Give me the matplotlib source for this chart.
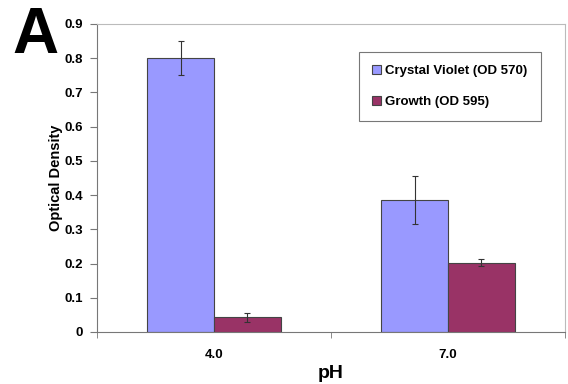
import numpy as np
import matplotlib.pyplot as plt

plt.rcParams['font.family'] = ['Liberation Sans', 'DejaVu Sans']

categories = ['4.0', '7.0']
crystal_violet = [0.80, 0.385]
crystal_violet_err = [0.05, 0.07]
growth = [0.043, 0.203]
growth_err = [0.013, 0.011]

fig = plt.figure(figsize=(5.68, 3.84), dpi=100)
ax = fig.add_axes([97 / 568, 1 - 332 / 384, 468 / 568, 308 / 384])

x = np.arange(len(categories))
w = 0.286
ax.bar(x - w / 2, crystal_violet, w, color='#9999FF', edgecolor='#444444', linewidth=0.8,
       yerr=crystal_violet_err, error_kw=dict(ecolor='#333333', elinewidth=0.8, capsize=2.5, capthick=0.8),
       label='Crystal Violet (OD 570)', zorder=2)
ax.bar(x + w / 2, growth, w, color='#993366', edgecolor='#444444', linewidth=0.8,
       yerr=growth_err, error_kw=dict(ecolor='#333333', elinewidth=0.8, capsize=2.5, capthick=0.8),
       label='Growth (OD 595)', zorder=2)

ax.set_xlim(-0.5, 1.5)
ax.set_ylim(0, 0.9)
ax.set_yticks(np.arange(0, 0.91, 0.1))
ax.set_yticklabels(['0'] + [f'{v:.1f}' for v in np.arange(0.1, 0.91, 0.1)],
                   fontsize=9.5, fontweight='bold')
ax.set_xticks(x)
ax.set_xticklabels(categories, fontsize=9.5, fontweight='bold')
ax.set_xticks([-0.5, 0.5, 1.5], minor=True)
ax.tick_params(axis='x', which='major', length=0, pad=12)
ax.tick_params(axis='x', which='minor', length=4, color='#777777', direction='out')
ax.tick_params(axis='y', length=5, color='#777777', pad=5)

for s in ['left', 'bottom']:
    ax.spines[s].set_color('#777777')
for s in ['top', 'right']:
    ax.spines[s].set_color('#bbbbbb')

ax.set_ylabel('Optical Density', fontsize=10.5, fontweight='bold', labelpad=1)
ax.set_xlabel('pH', fontsize=14, fontweight='bold', labelpad=3)

leg = ax.legend(loc='upper right', bbox_to_anchor=(0.948, 0.91),
                prop=dict(weight='bold', size=9.5), frameon=True, fancybox=False,
                handlelength=0.7, handleheight=0.7, handletextpad=0.3,
                labelspacing=1.4, borderpad=1.0, borderaxespad=0)
leg.get_frame().set_edgecolor('#555555')
leg.get_frame().set_linewidth(0.8)

fig.text(0.022, 0.985, 'A', fontsize=46, fontweight='bold', va='top', ha='left')

fig.savefig('out.png', dpi=100)
